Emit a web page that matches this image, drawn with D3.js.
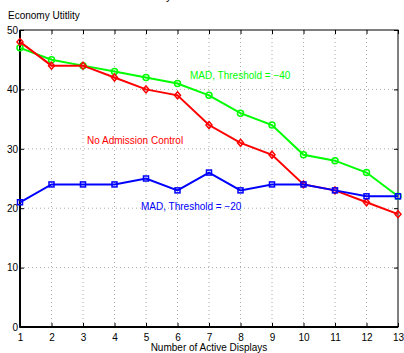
<!DOCTYPE html>
<html>
<head>
<meta charset="utf-8">
<script src="https://cdn.jsdelivr.net/npm/d3@7"></script>
<style>
  body { margin: 0; background: #fff; }
  text { font-family: "Liberation Sans", Arial, sans-serif; }
</style>
</head>
<body>
<div id="chart"></div>
<script>
const displays = [1, 2, 3, 4, 5, 6, 7, 8, 9, 10, 11, 12, 13];
const noAdmission = [48, 44, 44, 42, 40, 39, 34, 31, 29, 24, 23, 21, 19];
const mad40 = [47, 45, 44, 43, 42, 41, 39, 36, 34, 29, 28, 26, 22];
const mad20 = [21, 24, 24, 24, 25, 23, 26, 23, 24, 24, 23, 22, 22];
const yTicks = [0, 10, 20, 30, 40, 50];

const W = 404, H = 353;
const mL = 20, mR = 398, mT = 30, mB = 327;

const svg = d3.select('#chart').append('svg').attr('width', W).attr('height', H);

const x = d3.scaleLinear().domain([1, 13]).range([mL, mR]);
const y = d3.scaleLinear().domain([0, 50]).range([mB, mT]);

// dotted grid
svg.append('g').selectAll('line').data(displays.slice(1, -1)).join('line')
  .attr('x1', d => x(d)).attr('x2', d => x(d)).attr('y1', mT).attr('y2', mB)
  .attr('stroke', '#aaa').attr('stroke-width', 1).attr('stroke-dasharray', '1,3');
svg.append('g').selectAll('line').data(yTicks.slice(1, -1)).join('line')
  .attr('x1', mL).attr('x2', mR).attr('y1', d => y(d)).attr('y2', d => y(d))
  .attr('stroke', '#aaa').attr('stroke-width', 1).attr('stroke-dasharray', '1,3');

// axes, ticks pointing inward
const ax = svg.append('g').attr('transform', `translate(0,${mB})`)
  .call(d3.axisBottom(x).tickValues(displays).tickFormat(d3.format('d')).tickSizeInner(-4).tickSizeOuter(0));
const axTop = svg.append('g').attr('transform', `translate(0,${mT})`)
  .call(d3.axisTop(x).tickValues(displays).tickFormat('').tickSizeInner(-4).tickSizeOuter(0));
const ay = svg.append('g').attr('transform', `translate(${mL},0)`)
  .call(d3.axisLeft(y).tickValues(yTicks).tickSizeInner(-4).tickSizeOuter(0));
const ayR = svg.append('g').attr('transform', `translate(${mR},0)`)
  .call(d3.axisRight(y).tickValues(yTicks).tickFormat('').tickSizeInner(-4).tickSizeOuter(0));
[ax, axTop, ay, ayR].forEach(g => {
  g.select('.domain').remove();
  g.selectAll('line').attr('stroke', '#000');
});
ax.selectAll('text').attr('font-size', 10).attr('fill', '#000').attr('dy', '0.95em').attr('y', 4);
ay.selectAll('text').attr('font-size', 10).attr('fill', '#000').attr('x', -2);

svg.append('rect').attr('x', mL).attr('y', mT).attr('width', mR - mL).attr('height', mB - mT)
  .attr('fill', 'none').attr('stroke', '#000').attr('stroke-width', 1);
svg.append('line').attr('x1', mL).attr('x2', mL).attr('y1', mT).attr('y2', mB + 0.5)
  .attr('stroke', '#000').attr('stroke-width', 2);
svg.append('line').attr('x1', mL - 0.5).attr('x2', mR).attr('y1', mB).attr('y2', mB)
  .attr('stroke', '#000').attr('stroke-width', 2);

const line = d3.line().x((d, i) => x(displays[i])).y(d => y(d));
const series = [
  { values: mad40, color: '#00ff00', marker: 'circle' },
  { values: noAdmission, color: '#ff0000', marker: 'diamond' },
  { values: mad20, color: '#0000ff', marker: 'square' },
];

series.forEach(s => {
  svg.append('path').datum(s.values).attr('d', line)
    .attr('fill', 'none').attr('stroke', s.color).attr('stroke-width', 2);
  const g = svg.append('g');
  s.values.forEach((v, i) => {
    const cx = x(displays[i]), cy = y(v);
    if (s.marker === 'circle') {
      g.append('circle').attr('cx', cx).attr('cy', cy).attr('r', 3)
        .attr('fill', 'none').attr('stroke', s.color).attr('stroke-width', 1.5);
    } else if (s.marker === 'square') {
      g.append('rect').attr('x', cx - 2.5).attr('y', cy - 2.5).attr('width', 5).attr('height', 5)
        .attr('fill', 'none').attr('stroke', s.color).attr('stroke-width', 1.5);
    } else {
      g.append('path').attr('d', `M${cx},${cy - 3.5}L${cx + 3},${cy}L${cx},${cy + 3.5}L${cx - 3},${cy}Z`)
        .attr('fill', 'none').attr('stroke', s.color).attr('stroke-width', 1.5);
    }
  });
});

// in-plot labels
svg.append('text').attr('x', 190).attr('y', 79).attr('font-size', 10).attr('fill', '#00ff00')
  .text('MAD, Threshold = \u221240');
svg.append('text').attr('x', 87).attr('y', 144).attr('font-size', 10).attr('fill', '#ff0000')
  .text('No Admission Control');
svg.append('text').attr('x', 141).attr('y', 210).attr('font-size', 10).attr('fill', '#0000ff')
  .text('MAD, Threshold = \u221220');

// axis titles
svg.append('text').attr('x', 8).attr('y', 19).attr('font-size', 10).attr('fill', '#000')
  .text('Economy Utitlity');
svg.append('text').attr('x', 209).attr('y', 351).attr('text-anchor', 'middle')
  .attr('font-size', 10).attr('fill', '#000').text('Number of Active Displays');

// clipped remnant of a title above the frame
svg.append('text').attr('x', 166).attr('y', 0).attr('font-size', 11).attr('fill', '#000').text('y');
</script>
</body>
</html>
